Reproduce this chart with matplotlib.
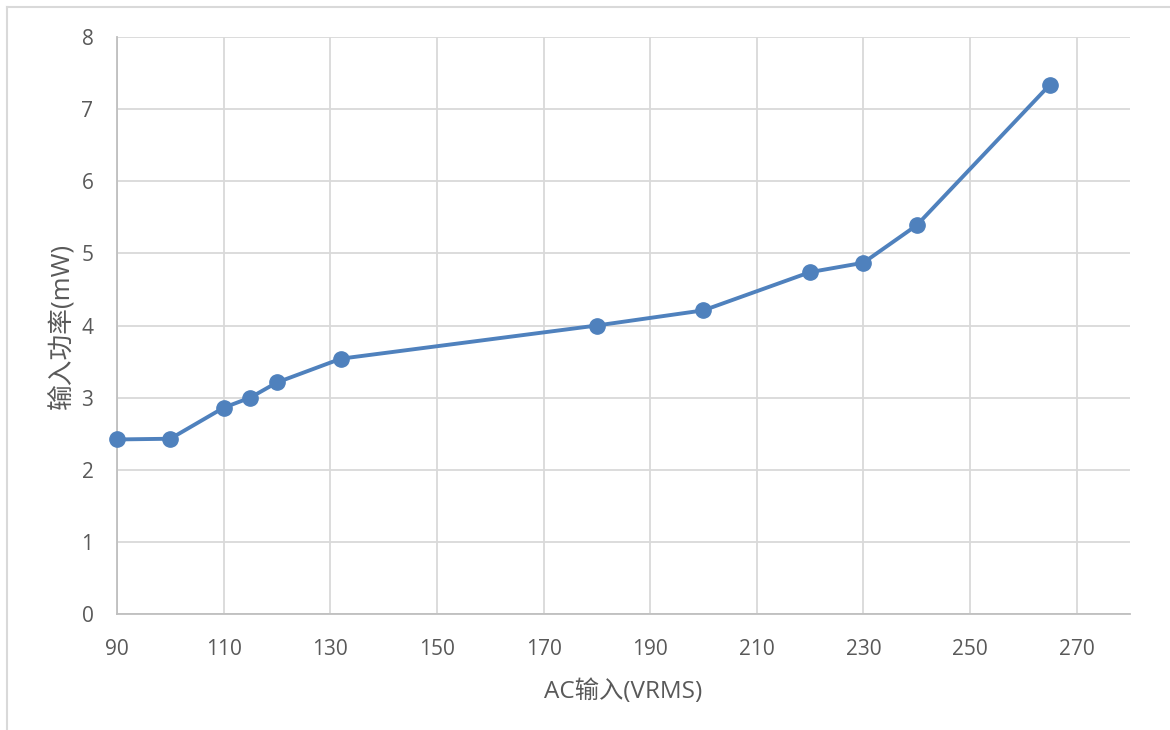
import matplotlib
matplotlib.use("Agg")
import matplotlib.pyplot as plt
from matplotlib.lines import Line2D

plt.rcParams['font.family'] = ['Open Sans', 'Noto Sans CJK SC', 'DejaVu Sans']

voltage = [90, 100, 110, 115, 120, 132, 180, 200, 220, 230, 240, 265]
power = [2.42, 2.43, 2.86, 3.00, 3.21, 3.54, 4.00, 4.21, 4.74, 4.87, 5.39, 7.34]
x_ticks = [90, 110, 130, 150, 170, 190, 210, 230, 250, 270]
y_ticks = [0, 1, 2, 3, 4, 5, 6, 7, 8]
x_label = "AC输入(VRMS)"
y_label = "输入功率(mW)"

W, H = 1170, 730
fig = plt.figure(figsize=(W / 100, H / 100), dpi=100)
ax = fig.add_axes([117 / W, 1 - 614 / H, (1130 - 117) / W, (614 - 37) / H])

blue = '#4F81BD'
grid = '#D9D9D9'
txt = '#595959'

ax.plot(voltage, power, color=blue, lw=2.8, marker='o', markersize=11,
        solid_capstyle='round', zorder=3, clip_on=False)

ax.set_xlim(90, 280)
ax.set_ylim(0, 8)
ax.set_xticks(x_ticks)
ax.set_yticks(y_ticks)
ax.grid(True, color=grid, lw=1.3)
ax.set_axisbelow(True)
for s in ['top', 'right']:
    ax.spines[s].set_visible(False)
for s in ['left', 'bottom']:
    ax.spines[s].set_color('#BFBFBF')
    ax.spines[s].set_linewidth(1.3)
ax.tick_params(length=0, labelsize=15, labelcolor=txt)
ax.tick_params(axis='x', pad=18)
ax.tick_params(axis='y', pad=17)

ax.set_xlabel(x_label, fontsize=17.5, color=txt, labelpad=14)
ax.set_ylabel(y_label, fontsize=18.5, color=txt, labelpad=5)

# chart area border (top and left visible)
fig.add_artist(Line2D([7 / W, 1], [1 - 7 / H, 1 - 7 / H], color=grid, lw=1.5, transform=fig.transFigure))
fig.add_artist(Line2D([7 / W, 7 / W], [0, 1 - 7 / H], color=grid, lw=1.5, transform=fig.transFigure))

fig.savefig('out.png', dpi=100)
